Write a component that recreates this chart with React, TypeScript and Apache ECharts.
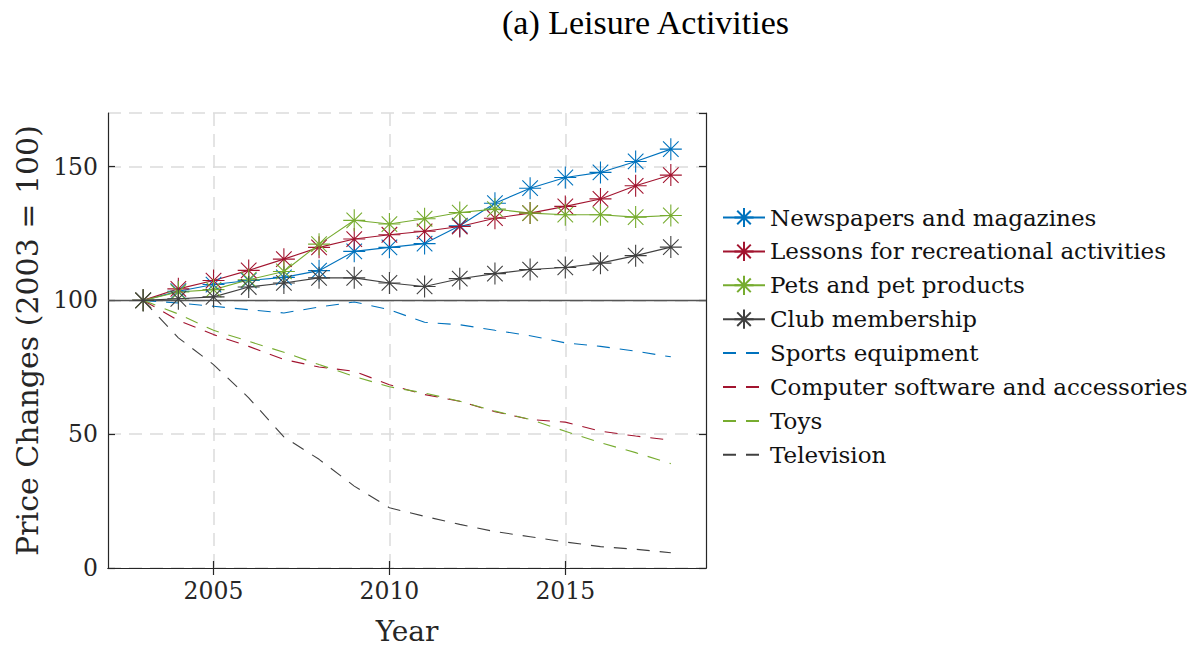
import React, { useEffect, useRef } from "react";
import * as echarts from "echarts";

const years = [2003, 2004, 2005, 2006, 2007, 2008, 2009, 2010, 2011, 2012, 2013, 2014, 2015, 2016, 2017, 2018];

const newspapers = [100, 103.4, 105.9, 107.4, 108.6, 111.1, 118.3, 119.8, 121.2, 127.9, 136.3, 141.9, 145.9, 147.8, 151.9, 156.5];
const lessons = [100, 104.3, 107.4, 111.2, 115.4, 119.8, 122.9, 124.5, 125.8, 127.6, 130.7, 132.6, 135.1, 137.9, 142.8, 146.8];
const pets = [100, 103.1, 104.0, 107.7, 110.8, 121.0, 129.9, 128.5, 130.5, 132.8, 134.1, 132.6, 132.0, 132.0, 131.1, 131.7];
const club = [100, 100.6, 101.3, 105.0, 106.5, 108.4, 108.4, 106.5, 105.2, 108.1, 110.0, 111.5, 112.3, 113.9, 116.7, 119.9];
const sports = [100, 99.0, 97.8, 96.5, 95.3, 97.5, 99.4, 96.5, 91.8, 90.9, 88.8, 86.8, 84.1, 82.8, 81.0, 78.9];
const software = [100, 92.5, 87.2, 82.8, 77.9, 75.1, 73.5, 68.5, 64.8, 62.3, 58.4, 55.5, 54.5, 51.1, 49.3, 47.8];
const toys = [100, 94.9, 88.8, 84.7, 80.6, 76.0, 71.6, 67.7, 65.4, 62.3, 58.6, 55.5, 51.1, 46.8, 43.1, 39.0];
const television = [100, 86.0, 76.0, 63.6, 49.0, 40.6, 30.6, 22.5, 19.3, 16.3, 13.6, 11.7, 9.7, 8.0, 7.0, 5.7];

const xTicks = [2005, 2010, 2015];

const seriesNames = [
  "Newspapers and magazines",
  "Lessons for recreational activities",
  "Pets and pet products",
  "Club membership",
  "Sports equipment",
  "Computer software and accessories",
  "Toys",
  "Television",
];
const seriesData = [newspapers, lessons, pets, club, sports, software, toys, television];
const seriesColors = ["#0072BD", "#A2142F", "#77AC30", "#404040", "#0072BD", "#A2142F", "#77AC30", "#404040"];
const seriesDashed = [false, false, false, false, true, true, true, true];

const FONT = "DejaVu Serif";
const TITLE_FONT = "Liberation Serif";
const STAR = "path://M0 -10 L0 10 M-10 0 L10 0 M-7.07 -7.07 L7.07 7.07 M-7.07 7.07 L7.07 -7.07";

export default function App() {
  const ref = useRef<HTMLDivElement>(null);
  useEffect(() => {
    if (!ref.current) return;
    const chart = echarts.init(ref.current, undefined, { renderer: "svg" });
    const axisLine = { show: true, lineStyle: { color: "#262626", width: 1.2 } };
    const splitLine = { show: true, lineStyle: { color: "#dcdcdc", width: 1.5, type: [13, 8] as any } };
    const tick = { show: true, inside: true, length: 7, lineStyle: { color: "#262626", width: 1.2 } };
    const series: any[] = seriesNames.map((name, i) => {
      const dashed = seriesDashed[i];
      const s: any = {
        name,
        type: "line",
        data: years.map((y, k) => [y, seriesData[i][k]]),
        showSymbol: !dashed,
        symbol: dashed ? "circle" : STAR,
        symbolSize: 22,
        symbolKeepAspect: true,
        lineStyle: { color: seriesColors[i], width: 1.1, type: dashed ? [13, 10] : "solid" },
        itemStyle: dashed
          ? { color: "transparent", borderColor: "transparent", borderWidth: 0 }
          : { color: seriesColors[i], borderColor: seriesColors[i], borderWidth: 1.1 },
        emphasis: { disabled: true },
        z: 3,
      };
      if (i === 0) {
        s.markLine = {
          silent: true,
          symbol: "none",
          label: { show: false },
          lineStyle: { color: "#555555", width: 1.3, type: "solid" },
          data: [{ yAxis: 100 }],
          z: 2,
        };
      }
      return s;
    });
    chart.setOption({
      animation: false,
      title: {
        text: "(a) Leisure Activities",
        left: 497,
        top: 0,
        textStyle: { fontFamily: TITLE_FONT, fontSize: 34, fontWeight: "normal", color: "#000" },
      },
      legend: {
        orient: "vertical",
        left: 722,
        top: 206,
        padding: 0,
        itemWidth: 42,
        itemHeight: 24,
        itemGap: 10.9,
        textStyle: { fontFamily: FONT, fontSize: 23, color: "#111" },
        data: seriesNames,
      },
      grid: { left: 108, right: 488, top: 113, bottom: 81, containLabel: false },
      xAxis: [
        {
          type: "value",
          min: 2002,
          max: 2019,
          position: "bottom",
          name: "Year",
          nameLocation: "middle",
          nameGap: 49,
          nameTextStyle: { fontFamily: FONT, fontSize: 28, color: "#262626" },
          axisLine,
          axisTick: { ...tick, customValues: xTicks },
          axisLabel: {
            customValues: xTicks,
            formatter: (v: number) => String(v),
            fontFamily: FONT,
            fontSize: 23.5,
            color: "#262626",
            margin: 11,
          },
          splitLine: splitLine,
        },
        {
          type: "value",
          min: 2002,
          max: 2019,
          position: "top",
          axisLine,
          axisTick: { ...tick, customValues: xTicks },
          axisLabel: { show: false, customValues: xTicks },
          splitLine: { show: false },
        },
      ],
      yAxis: [
        {
          type: "value",
          min: 0,
          max: 170,
          interval: 50,
          position: "left",
          name: "Price Changes (2003 = 100)",
          nameLocation: "middle",
          nameGap: 65,
          nameTextStyle: { fontFamily: FONT, fontSize: 30, color: "#262626" },
          axisLine,
          axisTick: tick,
          axisLabel: { showMaxLabel: false, fontFamily: FONT, fontSize: 23.5, color: "#262626", margin: 10 },
          splitLine: splitLine,
        },
        {
          type: "value",
          min: 0,
          max: 170,
          interval: 50,
          position: "right",
          axisLine,
          axisTick: tick,
          axisLabel: { show: false },
          splitLine: { show: false },
        },
      ],
      series,
    });
    return () => chart.dispose();
  }, []);
  return (
    <div
      ref={ref}
      style={{ position: "fixed", left: 0, top: 0, width: 1194, height: 650, background: "#fff" }}
    />
  );
}
